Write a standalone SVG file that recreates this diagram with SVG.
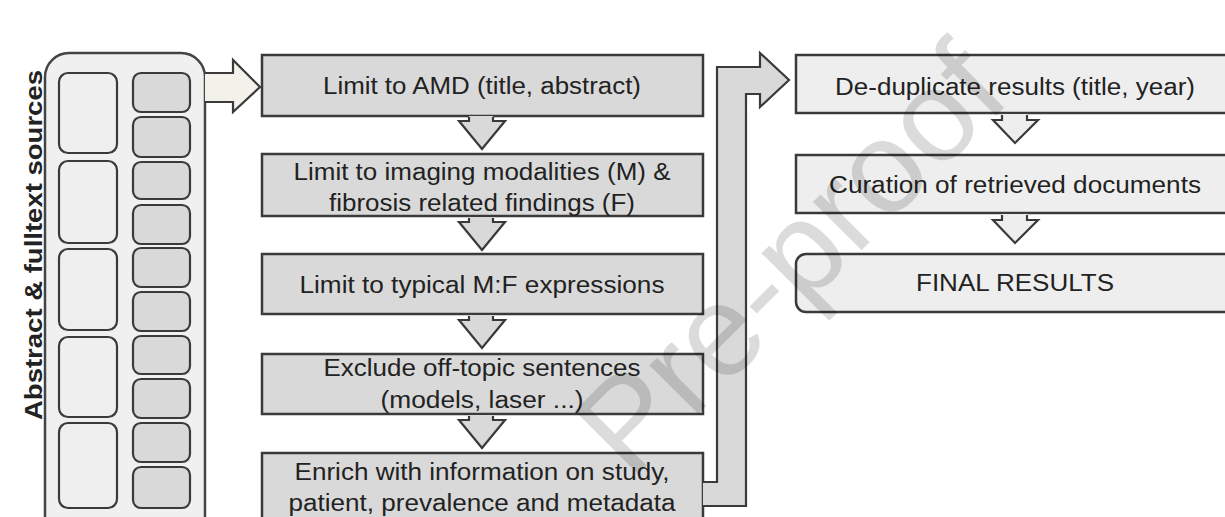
<svg xmlns="http://www.w3.org/2000/svg" width="1225" height="517" viewBox="0 0 1225 517">
<style>
.bx{fill:#d9d9d9;stroke:#3a3a3a;stroke-width:2.5}
.bxl{fill:#eeeeee;stroke:#3a3a3a;stroke-width:2.5}
.cl{fill:#efefef;stroke:#3a3a3a;stroke-width:2.2}
.cd{fill:#d9d9d9;stroke:#3a3a3a;stroke-width:2.2}
.t{font-family:"Liberation Sans",Arial,sans-serif;font-size:23px;fill:#222;text-anchor:middle}
.ar{stroke:#3a3a3a;stroke-width:2.2;stroke-linejoin:miter}
</style>
<rect width="1225" height="517" fill="#ffffff"/>

<g id="sources">
  <rect x="45" y="53" width="160" height="490" rx="24" fill="#f0f0f0" stroke="#444" stroke-width="2.5"/>
  <rect class="cl" x="59" y="73" width="58" height="80" rx="9"/>
  <rect class="cl" x="59" y="161" width="58" height="82" rx="9"/>
  <rect class="cl" x="59" y="249" width="58" height="81" rx="9"/>
  <rect class="cl" x="59" y="337" width="58" height="80" rx="9"/>
  <rect class="cl" x="59" y="423" width="58" height="85" rx="9"/>
  <rect class="cd" x="133" y="73" width="57" height="39" rx="8"/>
  <rect class="cd" x="133" y="117" width="57" height="40" rx="8"/>
  <rect class="cd" x="133" y="162" width="57" height="37" rx="8"/>
  <rect class="cd" x="133" y="205" width="57" height="39" rx="8"/>
  <rect class="cd" x="133" y="248" width="57" height="39" rx="8"/>
  <rect class="cd" x="133" y="292" width="57" height="39" rx="8"/>
  <rect class="cd" x="133" y="336" width="57" height="38" rx="8"/>
  <rect class="cd" x="133" y="379" width="57" height="39" rx="8"/>
  <rect class="cd" x="133" y="423" width="57" height="39" rx="8"/>
  <rect class="cd" x="133" y="467" width="57" height="41" rx="8"/>
  <text transform="translate(42,245) rotate(-90)" font-family="Liberation Sans,Arial,sans-serif" font-weight="bold" font-size="23" fill="#222" text-anchor="middle" textLength="350" lengthAdjust="spacingAndGlyphs">Abstract &amp; fulltext sources</text>
</g>

<g id="n1">
  <rect class="bx" x="262" y="55" width="441" height="61"/>
  <text class="t" x="482" y="94" textLength="318" lengthAdjust="spacingAndGlyphs">Limit to AMD (title, abstract)</text>
</g>
<g id="n2">
  <rect class="bx" x="262" y="154" width="441" height="62"/>
  <text class="t" x="482" y="180" textLength="377" lengthAdjust="spacingAndGlyphs">Limit to imaging modalities (M) &amp;</text>
  <text class="t" x="482" y="211" textLength="306" lengthAdjust="spacingAndGlyphs">fibrosis related findings (F)</text>
</g>
<g id="n3">
  <rect class="bx" x="262" y="254" width="441" height="60"/>
  <text class="t" x="482" y="293" textLength="365" lengthAdjust="spacingAndGlyphs">Limit to typical M:F expressions</text>
</g>
<g id="n4">
  <rect class="bx" x="262" y="354" width="441" height="60"/>
  <text class="t" x="482" y="376" textLength="317" lengthAdjust="spacingAndGlyphs">Exclude off-topic sentences</text>
  <text class="t" x="482" y="408" textLength="203" lengthAdjust="spacingAndGlyphs">(models, laser ...)</text>
</g>
<g id="n5">
  <rect class="bx" x="262" y="453" width="441" height="80"/>
  <text class="t" x="482" y="480" textLength="375" lengthAdjust="spacingAndGlyphs">Enrich with information on study,</text>
  <text class="t" x="482" y="511" textLength="387" lengthAdjust="spacingAndGlyphs">patient, prevalence and metadata</text>
</g>
<g id="n6">
  <rect class="bxl" x="796" y="55" width="440" height="58"/>
  <text class="t" x="1015" y="95" textLength="360" lengthAdjust="spacingAndGlyphs">De-duplicate results (title, year)</text>
</g>
<g id="n7">
  <rect class="bxl" x="796" y="155" width="440" height="58"/>
  <text class="t" x="1015" y="193" textLength="372" lengthAdjust="spacingAndGlyphs">Curation of retrieved documents</text>
</g>
<g id="n8">
  <rect class="bxl" x="796" y="254" width="440" height="58" rx="10"/>
  <text class="t" x="1015" y="291" textLength="198" lengthAdjust="spacingAndGlyphs">FINAL RESULTS</text>
</g>

<g id="connectors">
  <path class="ar" d="M205,73 H233 V60 L260,87 L233,112 V102 H205" fill="#f2f1ea"/>
  <path class="ar" d="M703,482 H717 V67 H760 V53 L789,80 L760,107 V94 H746 V506 H703" fill="#d9d9d9"/>
  <g fill="#d9d9d9">
    <path d="M469,116 V121 H459 L482,149 L505,121 H493 V116 Z" stroke="none"/>
    <path class="ar" d="M469,117 V121 H459 L482,149 L505,121 H493 V117" fill="none"/>
    <path d="M469,217 V222 H459 L482,250 L505,222 H493 V217 Z" stroke="none"/>
    <path class="ar" d="M469,218 V222 H459 L482,250 L505,222 H493 V218" fill="none"/>
    <path d="M469,315 V320 H459 L482,348 L505,320 H493 V315 Z" stroke="none"/>
    <path class="ar" d="M469,316 V320 H459 L482,348 L505,320 H493 V316" fill="none"/>
    <path d="M469,415 V420 H459 L482,448 L505,420 H493 V415 Z" stroke="none"/>
    <path class="ar" d="M469,416 V420 H459 L482,448 L505,420 H493 V416" fill="none"/>
  </g>
  <g fill="#eeeeee">
    <path d="M1002,114 V120 H993 L1015,143 L1038,120 H1027 V114 Z" stroke="none"/>
    <path class="ar" d="M1002,115 V120 H993 L1015,143 L1038,120 H1027 V115" fill="none"/>
    <path d="M1002,214 V220 H993 L1015,243 L1038,220 H1027 V214 Z" stroke="none"/>
    <path class="ar" d="M1002,215 V220 H993 L1015,243 L1038,220 H1027 V215" fill="none"/>
  </g>
</g>

<text transform="translate(822,290) rotate(-45)" font-family="Liberation Sans,Arial,sans-serif" font-size="130" fill="#000" fill-opacity="0.14" text-anchor="middle">Pre-proof</text>
</svg>
